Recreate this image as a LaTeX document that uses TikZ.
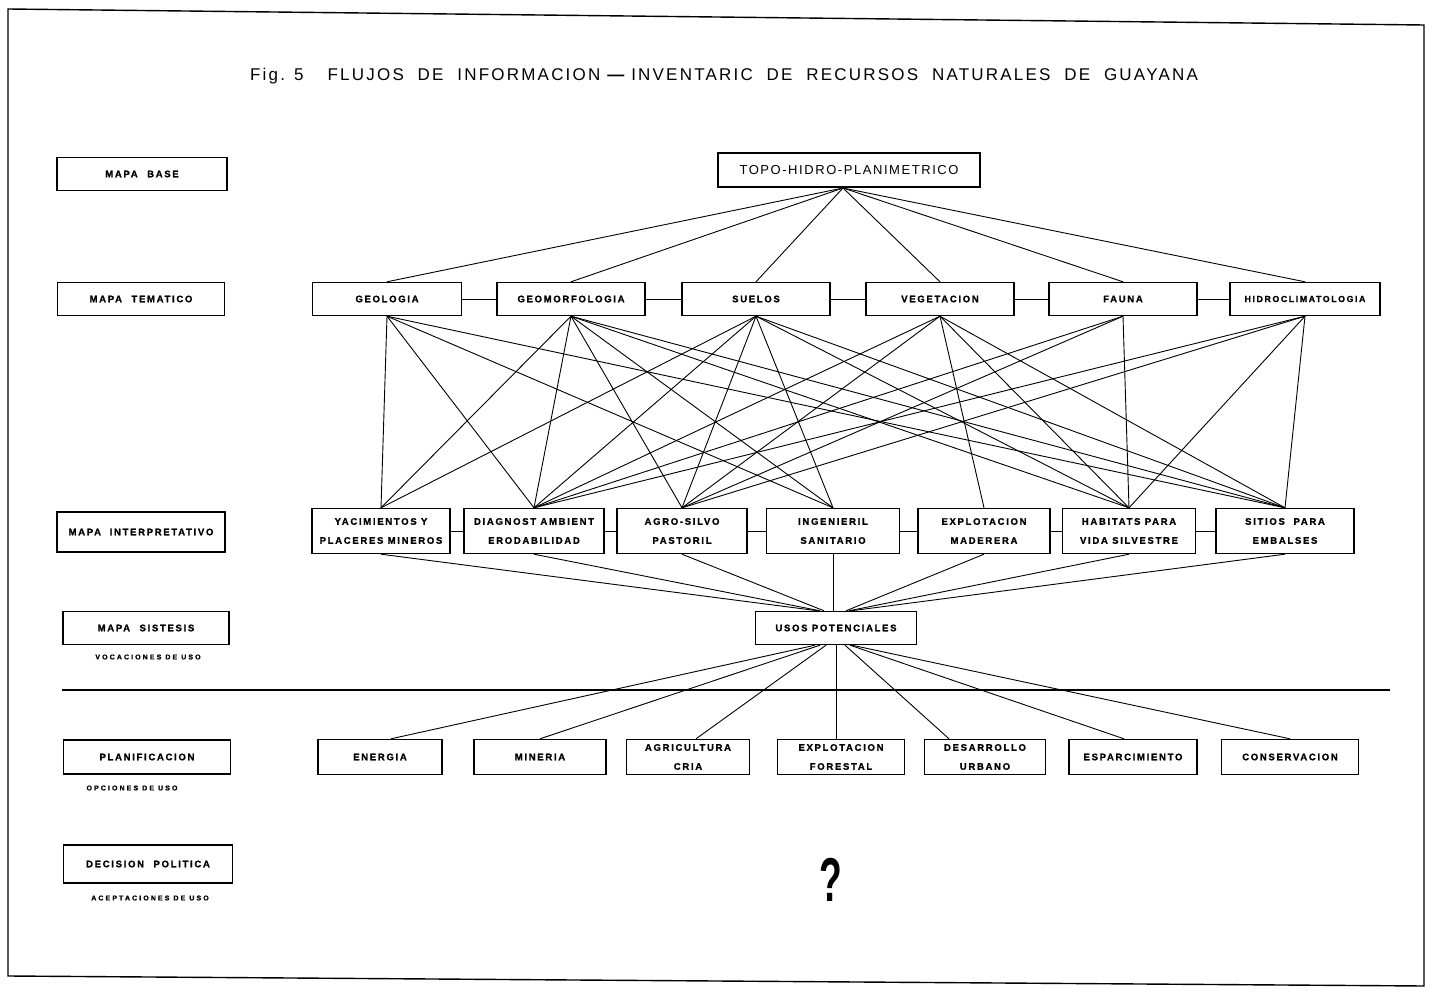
\documentclass[tikz,border=0pt]{standalone}
\usepackage{fontspec}
\setmainfont{Liberation Sans}
\newfontfamily\boxfont{Liberation Sans}[LetterSpace=18, BoldFeatures={FakeBold=1.2}]
\newfontfamily\titlefont{Liberation Sans}[LetterSpace=13]
\newfontfamily\topofont{Liberation Sans}[LetterSpace=12]
\newfontfamily\notefont{Liberation Sans}[LetterSpace=30, BoldFeatures={FakeBold=1.2}]
\begin{document}
\begin{tikzpicture}[x=1pt,y=-1pt,
  lbl/.style={draw, line width=1.4pt, inner sep=0pt, minimum height=33pt,
    align=center, font=\boxfont\bfseries\fontsize{9.5}{19}\selectfont},
  two/.style={lbl, minimum height=45pt},
  note/.style={inner sep=0pt, font=\notefont\bfseries\fontsize{7}{8}\selectfont},
  link/.style={line width=0.9pt}]
\useasboundingbox (0,0) rectangle (1433,992);
\fill[white] (0,0) rectangle (1433,992);

% frame
\draw[line width=1.4pt] (8,9) -- (1424,25) -- (1424,986) -- (8,976) -- cycle;

% title
\node[inner sep=0pt, font=\titlefont\fontsize{17}{19}\selectfont] (title) at (724,76)
  {Fig. 5\quad\ FLUJOS\ \ DE\ \ INFORMACION {\bfseries —} INVENTARIC\ \ DE\ \ RECURSOS\ \ NATURALES\ \ DE\ \ GUAYANA};

% level labels
\node[lbl, minimum width=170pt] (lbase) at (142,174) {MAPA\quad BASE};
\node[lbl, minimum width=167pt] (ltema) at (141,299) {MAPA\quad TEMATICO};
\node[lbl, minimum width=168pt, minimum height=40pt] (linter) at (141,532) {MAPA\ \ INTERPRETATIVO};
\node[lbl, minimum width=166pt] (lsint) at (146,628) {MAPA\quad SISTESIS};
\node[note] (nsint) at (148,657) {VOCACIONES DE USO};
\node[lbl, minimum width=167pt, minimum height=34pt] (lplan) at (147,757) {PLANIFICACION};
\node[note] (nplan) at (132,788) {OPCIONES DE USO};
\node[lbl, minimum width=169pt, minimum height=38pt] (ldec) at (148,864) {DECISION\quad POLITICA};
\node[note] (ndec) at (150,898) {ACEPTACIONES DE USO};

% base map
\node[lbl, minimum width=262pt, minimum height=34pt, font=\topofont\fontsize{13}{15}\selectfont] (topo) at (849,170) {TOPO-HIDRO-PLANIMETRICO};
\coordinate (tp) at (843,188);

% thematic maps
\node[lbl, minimum width=149pt] (geo) at (387,299) {GEOLOGIA};
\node[lbl, minimum width=148pt] (geom) at (571,299) {GEOMORFOLOGIA};
\node[lbl, minimum width=148pt] (sue) at (756,299) {SUELOS};
\node[lbl, minimum width=148pt] (veg) at (940,299) {VEGETACION};
\node[lbl, minimum width=148pt] (fau) at (1123,299) {FAUNA};
\node[lbl, minimum width=150pt, font=\boxfont\bfseries\fontsize{8.8}{19}\selectfont] (hid) at (1305,299) {HIDROCLIMATOLOGIA};

% interpretive maps
\node[two, minimum width=138pt] (yac) at (381,531) {YACIMIENTOS Y\\PLACERES MINEROS};
\node[two, minimum width=140pt] (diag) at (534,531) {DIAGNOST AMBIENT\\ERODABILIDAD};
\node[two, minimum width=130pt] (agro) at (682,531) {AGRO-SILVO\\PASTORIL};
\node[two, minimum width=133pt] (ing) at (833,531) {INGENIERIL\\SANITARIO};
\node[two, minimum width=132pt] (expl) at (984,531) {EXPLOTACION\\MADERERA};
\node[two, minimum width=133pt] (hab) at (1129,531) {HABITATS PARA\\VIDA SILVESTRE};
\node[two, minimum width=138pt] (sit) at (1285,531) {SITIOS\ \ PARA\\EMBALSES};

% synthesis
\node[lbl, minimum width=161pt] (usos) at (836,628) {USOS POTENCIALES};

% planning options
\node[lbl, minimum width=124pt, minimum height=35pt] (ene) at (380,757) {ENERGIA};
\node[lbl, minimum width=132pt, minimum height=35pt] (min) at (540,757) {MINERIA};
\node[lbl, minimum width=123pt, minimum height=35pt] (agr) at (688,757) {AGRICULTURA\\CRIA};
\node[lbl, minimum width=127pt, minimum height=35pt] (exf) at (841,757) {EXPLOTACION\\FORESTAL};
\node[lbl, minimum width=121pt, minimum height=35pt] (des) at (985,757) {DESARROLLO\\URBANO};
\node[lbl, minimum width=128pt, minimum height=35pt] (esp) at (1133,757) {ESPARCIMIENTO};
\node[lbl, minimum width=137pt, minimum height=35pt] (con) at (1290,757) {CONSERVACION};

% political decision
\node[inner sep=0pt, font=\bfseries\fontsize{62}{62}\selectfont] (q) at (831,880) {\scalebox{0.6}[1]{?}};

% base -> thematic
\foreach \t in {geo,geom,sue,veg,fau,hid}
  \draw[link] (tp) -- (\t.north);

% links along the thematic row
\draw[link] (geo.east) -- (geom.west);
\draw[link] (geom.east) -- (sue.west);
\draw[link] (sue.east) -- (veg.west);
\draw[link] (veg.east) -- (fau.west);
\draw[link] (fau.east) -- (hid.west);

% thematic -> interpretive
\foreach \i in {yac,diag,ing,sit} \draw[link] (geo.south) -- (\i.north);
\foreach \i in {yac,diag,agro,ing,hab,sit} \draw[link] (geom.south) -- (\i.north);
\foreach \i in {yac,diag,agro,ing,hab,sit} \draw[link] (sue.south) -- (\i.north);
\foreach \i in {diag,agro,expl,hab,sit} \draw[link] (veg.south) -- (\i.north);
\foreach \i in {diag,agro,hab} \draw[link] (fau.south) -- (\i.north);
\foreach \i in {diag,agro,hab,sit} \draw[link] (hid.south) -- (\i.north);

% links along the interpretive row
\draw[link] (yac.east) -- (diag.west);
\draw[link] (diag.east) -- (agro.west);
\draw[link] (agro.east) -- (ing.west);
\draw[link] (ing.east) -- (expl.west);
\draw[link] (expl.east) -- (hab.west);
\draw[link] (hab.east) -- (sit.west);

% interpretive -> synthesis
\draw[link] (yac.south) -- ([xshift=-18pt]usos.north);
\draw[link] (diag.south) -- ([xshift=-16pt]usos.north);
\draw[link] (agro.south) -- ([xshift=-12pt]usos.north);
\draw[link] (ing.south) -- (ing.south |- usos.north);
\draw[link] (expl.south) -- ([xshift=10pt]usos.north);
\draw[link] (hab.south) -- ([xshift=13pt]usos.north);
\draw[link] (sit.south) -- ([xshift=15pt]usos.north);

% divider
\draw[line width=1.3pt] (62,690) -- (1390,690);

% synthesis -> planning
\draw[link] ([xshift=-21pt]usos.south) -- ([xshift=11pt]ene.north);
\draw[link] ([xshift=-16pt]usos.south) -- (min.north);
\draw[link] ([xshift=-10pt]usos.south) -- ([xshift=8pt]agr.north);
\draw[link] (usos.south) -- (usos.south |- exf.north);
\draw[link] ([xshift=9pt]usos.south) -- ([xshift=-36pt]des.north);
\draw[link] ([xshift=14pt]usos.south) -- ([xshift=-9pt]esp.north);
\draw[link] ([xshift=16pt]usos.south) -- (con.north);
\end{tikzpicture}
\end{document}
